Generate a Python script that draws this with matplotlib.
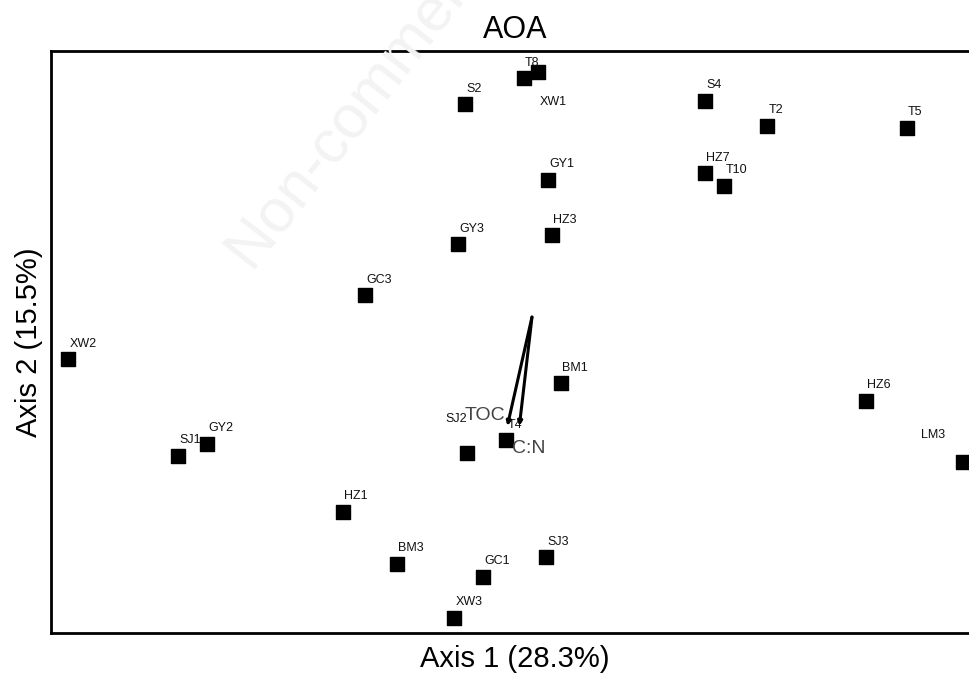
import matplotlib.pyplot as plt

plt.rcParams['font.family'] = ['Liberation Sans', 'DejaVu Sans']

# sample scores (Axis 1, Axis 2)
samples = ["XW2", "SJ1", "GY2", "HZ1", "BM3", "GC1", "XW3", "SJ3", "SJ2", "T4",
           "BM1", "HZ6", "LM3", "GC3", "GY3", "HZ3", "GY1", "S2", "T8", "XW1",
           "S4", "T2", "T5", "HZ7", "T10"]
axis1 = [-1.546, -1.181, -1.084, -0.631, -0.451, -0.164, -0.260, 0.047, -0.218, -0.087,
         0.096, 1.112, 1.437, -0.557, -0.247, 0.067, 0.052, -0.223, -0.028, 0.021,
         0.577, 0.783, 1.249, 0.577, 0.640]
axis2 = [-0.141, -0.463, -0.422, -0.649, -0.823, -0.866, -1.002, -0.801, -0.452, -0.410,
         -0.221, -0.279, -0.483, 0.073, 0.243, 0.273, 0.457, 0.710, 0.796, 0.818,
         0.721, 0.637, 0.631, 0.480, 0.438]

# environmental vectors
env_names = ["TOC", "C:N"]
env_x = [-0.082, -0.042]
env_y = [-0.363, -0.363]

# label offsets in points (default: just above right)
label_off = {"XW1": (1, -24), "SJ2": (-15, 22), "LM3": (-30, 17)}

fig = plt.figure(figsize=(9.7, 6.78), dpi=100)
ax = fig.add_axes([0.0526, 0.0664, 0.9567, 0.8584])

ax.scatter(axis1, axis2, marker='s', s=100, color='black', zorder=3)
for name, x, y in zip(samples, axis1, axis2):
    dx, dy = label_off.get(name, (1, 9))
    ax.annotate(name, (x, y), xytext=(dx, dy), textcoords='offset points',
                fontsize=9, ha='left', va='baseline', color='#111111', zorder=4)

for name, x, y in zip(env_names, env_x, env_y):
    ax.annotate('', xy=(x, y), xytext=(0, 0),
                arrowprops=dict(arrowstyle='-|>', lw=2.2, color='black',
                                mutation_scale=6, shrinkA=0, shrinkB=0), zorder=5)
ax.text(env_x[0] - 0.008, env_y[0] + 0.02, env_names[0], fontsize=14, color='#444444',
        ha='right', va='baseline', zorder=6)
ax.text(env_x[1] - 0.025, env_y[1] - 0.09, env_names[1], fontsize=14, color='#444444',
        ha='left', va='baseline', zorder=6)

ax.set_xlim(-1.603, 1.49)
ax.set_ylim(-1.053, 0.887)
ax.set_xticks([])
ax.set_yticks([])
for sp in ax.spines.values():
    sp.set_linewidth(2)

ax.set_title("AOA", fontsize=22, pad=9)
ax.set_xlabel("Axis 1 (28.3%)", fontsize=21, labelpad=9)
ax.set_ylabel("Axis 2 (15.5%)", fontsize=21, labelpad=6)

# faint watermark
fig.text(0.225, 0.585, "Non-commercial use only", fontsize=44, color='#f3f3f3',
         rotation=52, ha='left', va='bottom', zorder=0)

fig.savefig("out.png", dpi=100)
